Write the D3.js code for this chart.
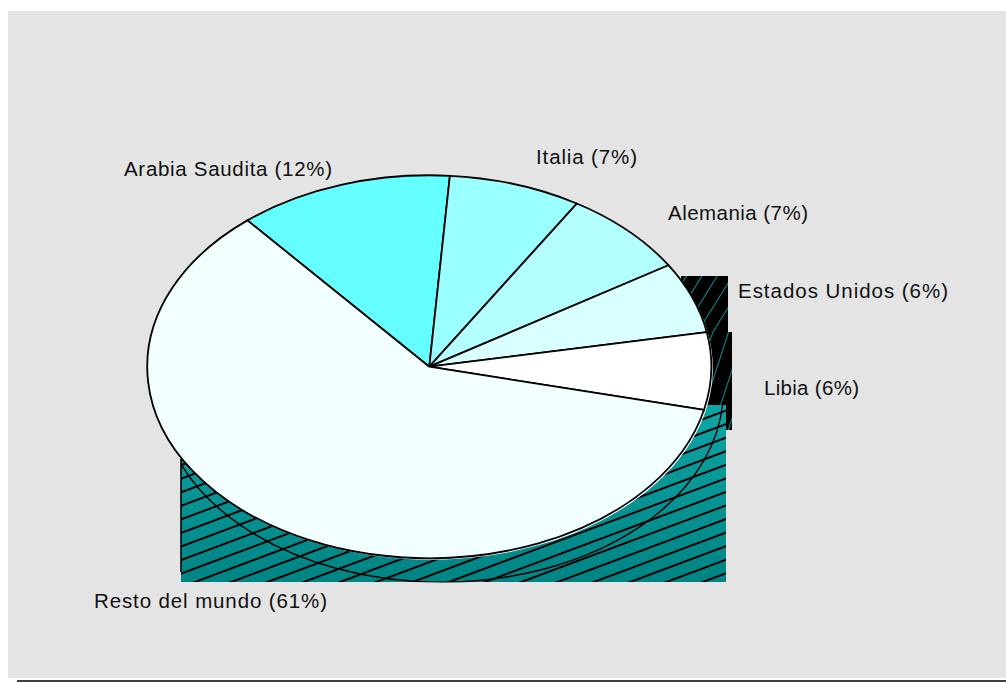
<!DOCTYPE html>
<html>
<head>
<meta charset="utf-8">
<script src="https://d3js.org/d3.v7.min.js"></script>
<style>
html,body{margin:0;padding:0;background:#fff;}
svg{display:block;}
text{font-family:"Liberation Sans",Arial,sans-serif;font-size:20.5px;fill:#111;}
</style>
</head>
<body>
<svg id="chart" width="1006" height="682"></svg>
<script>
const categories = ["Arabia Saudita","Italia","Alemania","Estados Unidos","Libia","Resto del mundo"];
const labelPercents = [12,7,7,6,6,61];
const sliceShares = [12.33,7.6,7.35,6.0,6.52,60.2];
const sliceColors = ["#66ffff","#99ffff","#b3ffff","#d9ffff","#ffffff","#f2ffff"];

const W = 1006, H = 682;
const svg = d3.select("#chart");
const defs = svg.append("defs");

const pieLayout = {cx:429.3, cy:366.7, rx:282, ry:191.5, start:-40.2*Math.PI/180};
const labelSpots = [[124,176],[536,164],[668,220],[738,298],[764,395],[94,608]];
const labelWidths = [208,101,140,210,95,233];

// background panel
svg.append("rect").attr("x",8).attr("y",11).attr("width",W-8).attr("height",667).attr("fill","#e4e4e4");
svg.append("line").attr("x1",17).attr("x2",W).attr("y1",681).attr("y2",681).attr("stroke","#000").attr("stroke-width",1.5);

// hatches
function hatch(id, bg, fg, gap, width, angle){
  const p = defs.append("pattern").attr("id",id).attr("patternUnits","userSpaceOnUse")
    .attr("width",40).attr("height",gap).attr("patternTransform",`rotate(${angle})`);
  p.append("rect").attr("width",40).attr("height",gap).attr("fill",bg);
  p.append("rect").attr("width",40).attr("height",width).attr("fill",fg);
}
const grad = defs.append("linearGradient").attr("id","tealGrad").attr("x1",0).attr("y1",0).attr("x2",0).attr("y2",1);
grad.append("stop").attr("offset","0").attr("stop-color","#0fa5a5");
grad.append("stop").attr("offset","1").attr("stop-color","#008484");
const hp = defs.append("pattern").attr("id","hatchMain").attr("patternUnits","userSpaceOnUse")
  .attr("width",40).attr("height",12.7).attr("patternTransform","translate(0,3) rotate(-20.5)");
hp.append("rect").attr("width",40).attr("height",2).attr("fill","#000");
hatch("hatchA","#000","#0a9090",13,1,-58);
hatch("hatchB","#000","#0a9090",15,1,-72);

// shaded blocks behind the pie
svg.append("rect").attr("x",681).attr("y",276).attr("width",47).attr("height",57).attr("fill","url(#hatchA)");
svg.append("rect").attr("x",700).attr("y",332).attr("width",32).attr("height",98).attr("fill","url(#hatchB)");
svg.append("rect").attr("x",181).attr("y",405).attr("width",545).attr("height",177).attr("fill","url(#tealGrad)");
svg.append("rect").attr("x",181).attr("y",405).attr("width",545).attr("height",177).attr("fill","url(#hatchMain)");
svg.append("line").attr("x1",181).attr("x2",181).attr("y1",459).attr("y2",572).attr("stroke","#000").attr("stroke-width",1.6);

const clip = defs.append("clipPath").attr("id","blockClip");
clip.append("rect").attr("x",181).attr("y",405).attr("width",551).attr("height",177.5);

const unitArc = d3.arc().innerRadius(0).outerRadius(1);

// shadow outline
svg.append("g").attr("clip-path","url(#blockClip)")
  .append("ellipse").attr("cx",pieLayout.cx+12).attr("cy",pieLayout.cy+24)
  .attr("rx",pieLayout.rx).attr("ry",pieLayout.ry).attr("fill","none").attr("stroke","#000").attr("stroke-width",1.4);

// white rim under the pie
svg.append("ellipse").attr("cx",pieLayout.cx+1.5).attr("cy",pieLayout.cy+1.5)
  .attr("rx",pieLayout.rx).attr("ry",pieLayout.ry).attr("fill","#fff");

// pie
const pie = d3.pie().sort(null).startAngle(pieLayout.start).endAngle(pieLayout.start+2*Math.PI);
const arcs = pie(sliceShares);
svg.append("g")
  .attr("transform",`translate(${pieLayout.cx},${pieLayout.cy}) scale(${pieLayout.rx},${pieLayout.ry})`)
  .selectAll("path").data(arcs).join("path")
  .attr("d",unitArc)
  .attr("fill",(d,i)=>sliceColors[i])
  .attr("stroke","#000")
  .attr("stroke-width",1.8)
  .attr("stroke-linejoin","round")
  .attr("vector-effect","non-scaling-stroke");

// labels
svg.selectAll("text.lbl").data(categories).join("text")
  .attr("class","lbl")
  .attr("x",(d,i)=>labelSpots[i][0])
  .attr("y",(d,i)=>labelSpots[i][1])
  .attr("textLength",(d,i)=>labelWidths[i])
  .attr("lengthAdjust","spacing")
  .text((d,i)=>`${d} (${labelPercents[i]}%)`);
</script>
</body>
</html>
